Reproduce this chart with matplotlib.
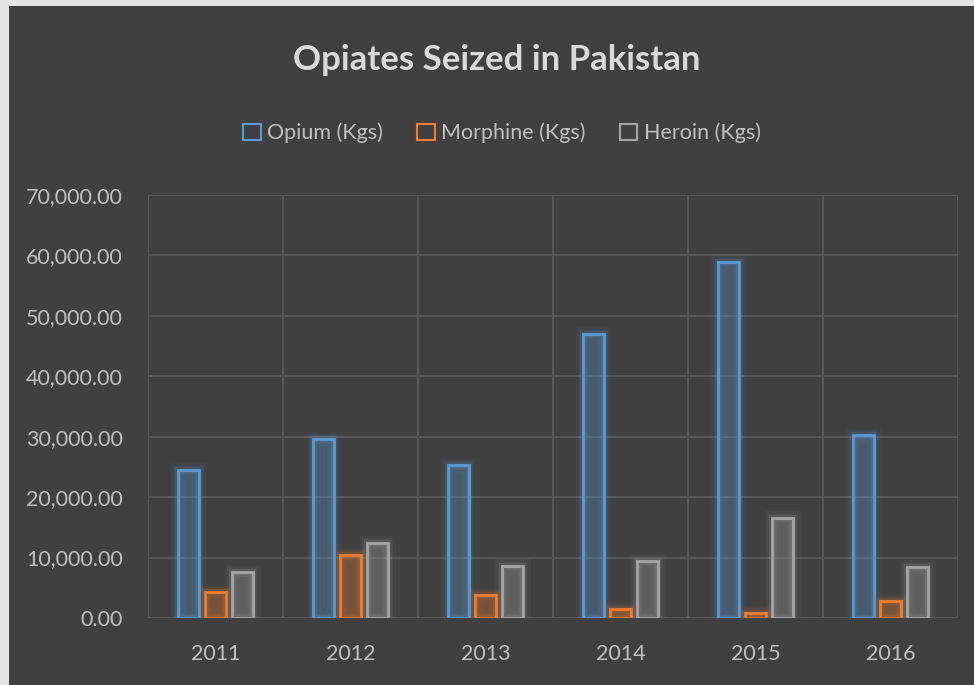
import matplotlib
matplotlib.use("Agg")
import matplotlib.pyplot as plt
import matplotlib.patheffects as pe
from matplotlib.patches import Rectangle
import numpy as np

years = ["2011", "2012", "2013", "2014", "2015", "2016"]
opium = [24500, 29630, 25330, 46970, 58890, 30350]
morphine = [4350, 10430, 3800, 1440, 880, 2810]
heroin = [7670, 12470, 8600, 9440, 16500, 8390]
series_names = ["Opium (Kgs)", "Morphine (Kgs)", "Heroin (Kgs)"]
colors = ["#5b9bd5", "#ed7d31", "#a5a5a5"]

W, H = 974, 685
fig = plt.figure(figsize=(W / 100, H / 100), dpi=100)
fig.patch.set_facecolor("#e4e4e4")
fig.patches.append(Rectangle((9 / W, 0), 1 - 9 / W, 1 - 6 / H, transform=fig.transFigure,
                             facecolor="#404040", edgecolor="none", zorder=-10))

font = "Lato"
ax = fig.add_axes([148 / W, (H - 618) / H, (958 - 148) / W, (618 - 195) / H])
ax.set_facecolor("none")
ax.set_xlim(0, len(years))
ax.set_ylim(0, 70000)

x = np.arange(len(years)) + 0.5
offsets = [-0.2, 0.0, 0.2]
width = 0.15
for vals, off, c, name in zip([opium, morphine, heroin], offsets, colors, series_names):
    bars = ax.bar(x + off, vals, width=width, facecolor=c + "14", edgecolor=c,
                  linewidth=2, label=name, zorder=3)
    for b in bars:
        b.set_path_effects([
            pe.Stroke(linewidth=11, foreground=c, alpha=0.05),
            pe.Stroke(linewidth=7, foreground=c, alpha=0.08),
            pe.Stroke(linewidth=4.5, foreground=c, alpha=0.14),
            pe.Normal(),
        ])

ax.set_yticks(np.arange(0, 70001, 10000))
ax.set_yticklabels([f"{v:,.2f}" for v in np.arange(0, 70001, 10000)])
ax.set_xticks(x)
ax.set_xticklabels(years)
ax.set_xticks(np.arange(0, len(years) + 1), minor=True)
ax.grid(axis="y", which="major", color="#5a5a5a", linewidth=1.3, zorder=0)
ax.grid(axis="x", which="minor", color="#5a5a5a", linewidth=1.3, zorder=0)
ax.grid(axis="x", which="major", visible=False)
for s in ax.spines.values():
    s.set_visible(False)
ax.tick_params(axis="both", which="both", length=0)
ax.tick_params(axis="y", pad=18, labelsize=15.5, labelcolor="#c0c0c0")
ax.tick_params(axis="x", pad=19, labelsize=15.5, labelcolor="#c0c0c0")
for lab in ax.get_xticklabels() + ax.get_yticklabels():
    lab.set_fontfamily(font)

fig.text(497 / W, 1 - 60 / H, "Opiates Seized in Pakistan", ha="center", va="center",
         fontsize=25, fontweight="bold", color="#d9d9d9", family=font)

handles = [Rectangle((0, 0), 1, 1, facecolor="none", edgecolor=c, linewidth=1.5) for c in colors]
leg = fig.legend(handles, series_names, loc="center", bbox_to_anchor=(502 / W, 1 - 133 / H),
                 ncol=3, frameon=False, handlelength=0.8, handleheight=0.8, handletextpad=0.3,
                 columnspacing=1.6, prop={"family": font, "size": 15.5})
for t in leg.get_texts():
    t.set_color("#c0c0c0")

fig.savefig("out.png", dpi=100, facecolor=fig.get_facecolor())
